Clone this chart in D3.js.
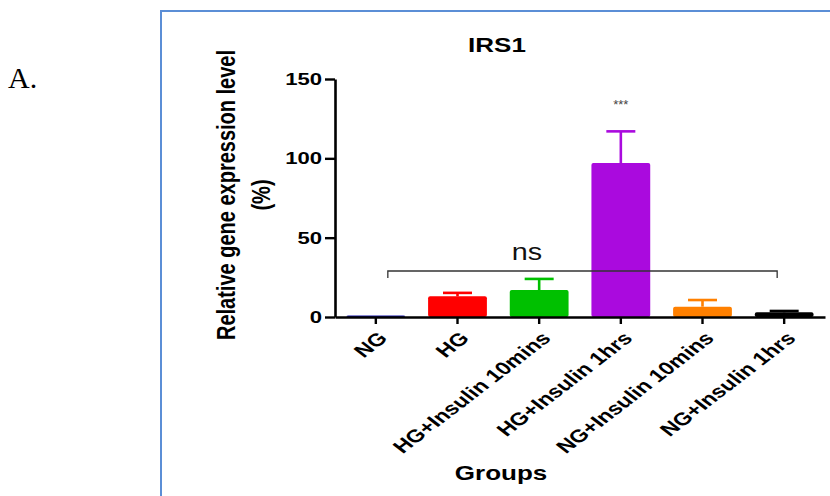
<!DOCTYPE html>
<html>
<head>
<meta charset="utf-8">
<script src="https://cdn.jsdelivr.net/npm/d3@7"></script>
<style>
  html, body { margin: 0; padding: 0; background: #fff; }
  svg { display: block; }
  text { font-family: "Liberation Sans", Arial, sans-serif; }
</style>
</head>
<body>
<svg id="chart" width="830" height="496"></svg>
<script>
// IRS1 relative expression per treatment group (mean and SEM, %)
const groups = ["NG", "HG", "HG+Insulin 10mins", "HG+Insulin 1hrs", "NG+Insulin 10mins", "NG+Insulin 1hrs"];
const means = [1, 13, 17, 97, 6.5, 3];
const sems = [0, 2.2, 7, 20, 4.2, 0.8];
const barColors = ["#1414a8", "#ff0000", "#00c000", "#aa0ade", "#ff8000", "#000000"];
const yTicks = [0, 50, 100, 150];

const svg = d3.select("#chart");
const SX = 1.3; // horizontal glyph stretch used throughout the figure

// panel frame (left and top edges)
svg.append("path")
  .attr("d", "M161,496 L161,11 L830,11")
  .attr("fill", "none").attr("stroke", "#5b8ed6").attr("stroke-width", 2);

// panel letter
svg.append("text")
  .attr("x", 8).attr("y", 88)
  .style("font-family", "'Liberation Serif', 'Times New Roman', serif")
  .style("font-size", "30px")
  .text("A.");

const y = d3.scaleLinear().domain([0, 150]).range([317, 79]);
const x = d3.scaleBand().domain(groups).range([335, 825])
  .paddingInner(0.28).paddingOuter(0.14);

// title
svg.append("text")
  .attr("transform", `translate(497,52) scale(${SX},1)`)
  .attr("text-anchor", "middle")
  .style("font-size", "20px").style("font-weight", "bold")
  .text("IRS1");

// bars
svg.append("g").selectAll("rect")
  .data(groups)
  .join("rect")
  .attr("x", d => x(d))
  .attr("width", x.bandwidth())
  .attr("y", (d, i) => y(means[i]))
  .attr("height", (d, i) => y(0) - y(means[i]))
  .attr("rx", 2)
  .attr("fill", (d, i) => barColors[i]);

// error bars (upper only)
const eb = svg.append("g").attr("stroke-width", 2.6);
groups.forEach((g, i) => {
  if (sems[i] <= 0) return;
  const cx = x(g) + x.bandwidth() / 2;
  eb.append("line")
    .attr("x1", cx).attr("x2", cx)
    .attr("y1", y(means[i])).attr("y2", y(means[i] + sems[i]))
    .attr("stroke", barColors[i]);
  eb.append("line")
    .attr("x1", cx - 14.5).attr("x2", cx + 14.5)
    .attr("y1", y(means[i] + sems[i])).attr("y2", y(means[i] + sems[i]))
    .attr("stroke", barColors[i]);
});

// y axis
const yAxis = svg.append("g")
  .attr("transform", "translate(335,0)")
  .call(d3.axisLeft(y).tickValues(yTicks).tickSize(10).tickSizeOuter(0));
yAxis.select(".domain").attr("stroke-width", 2.6);
yAxis.selectAll(".tick line").attr("stroke-width", 2.4);
yAxis.selectAll(".tick text")
  .attr("x", -10)
  .attr("transform", `scale(${SX},1)`)
  .attr("fill", "#000")
  .style("font-size", "17px").style("font-weight", "bold")
  .style("font-family", "'Liberation Sans', Arial, sans-serif");

// x axis
const xAxis = svg.append("g")
  .attr("transform", `translate(0,${y(0)})`)
  .call(d3.axisBottom(x).tickSize(7).tickSizeOuter(0));
xAxis.select(".domain").attr("stroke-width", 2.6);
xAxis.selectAll(".tick line").attr("stroke-width", 2.4);
xAxis.selectAll(".tick text")
  .attr("x", 0).attr("y", 0)
  .attr("dy", "0.35em")
  .attr("text-anchor", "end")
  .attr("transform", `translate(7,18) scale(${SX},1) rotate(-45)`)
  .attr("fill", "#000")
  .style("font-size", "18px").style("font-weight", "bold")
  .style("font-family", "'Liberation Sans', Arial, sans-serif");

// axis titles
const yl = svg.append("g")
  .attr("transform", `translate(235,195) scale(${SX},1) rotate(-90)`);
yl.append("text")
  .attr("text-anchor", "middle")
  .style("font-size", "20px").style("font-weight", "bold")
  .text("Relative gene expression level");
yl.append("text")
  .attr("y", 27)
  .attr("text-anchor", "middle")
  .style("font-size", "20px").style("font-weight", "bold")
  .text("(%)");

svg.append("text")
  .attr("transform", `translate(501,480) scale(${SX},1)`)
  .attr("text-anchor", "middle")
  .style("font-size", "20px").style("font-weight", "bold")
  .text("Groups");

// significance annotations
const bx0 = x(groups[0]) + x.bandwidth() / 2 + 12;
const bx1 = x(groups[5]) + x.bandwidth() / 2 - 7;
svg.append("path")
  .attr("d", `M${bx0},278 L${bx0},271 L${bx1},271 L${bx1},278`)
  .attr("fill", "none").attr("stroke", "#333").attr("stroke-width", 1.3);
svg.append("text")
  .attr("transform", `translate(527,260) scale(1.25,1)`)
  .attr("text-anchor", "middle")
  .style("font-size", "23px")
  .attr("fill", "#111")
  .text("ns");
svg.append("text")
  .attr("x", x(groups[3]) + x.bandwidth() / 2)
  .attr("y", 109)
  .attr("text-anchor", "middle")
  .style("font-size", "13px")
  .attr("fill", "#444")
  .text("***");
</script>
</body>
</html>
